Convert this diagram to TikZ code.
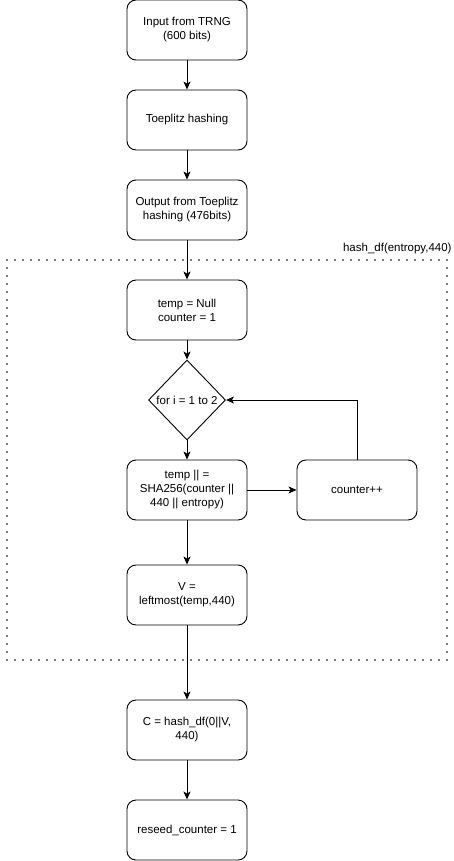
\documentclass[tikz,border=0pt]{standalone}
\usepackage{fontspec}
\setmainfont{Liberation Sans}
\usetikzlibrary{arrows.meta,shapes.geometric}
\begin{document}
\begin{tikzpicture}[x=1pt,y=-1pt,>={Stealth[length=8pt,width=7pt,inset=2pt]},
  line width=0.9pt,
  box/.style={draw,rounded corners=9pt,minimum width=120pt,minimum height=60pt,
    inner sep=2pt,align=center,font=\fontsize{11.5}{14}\selectfont},
  decision/.style={draw,diamond,inner sep=0pt,minimum width=77pt,minimum height=80pt},
  frame/.style={line width=1.6pt,dash pattern=on 0pt off 8pt,line cap=round},
  txt/.style={font=\fontsize{11.5}{14}\selectfont}]
  \useasboundingbox (0,0) rectangle (454,861);
  % outer steps
  \node[box] (in)  at (187,30)  {Input from TRNG\\(600 bits)};
  \node[box] (toe) at (187,120) {Toeplitz hashing};
  \node[box] (out) at (187,210) {Output from Toeplitz\\hashing (476bits)};
  % hash_df block
  \draw[frame] (7,260) rectangle (447,660);
  \node[txt,anchor=base east,inner sep=0pt] (lbl) at (452,251) {hash\_df(entropy,440)};
  \node[box] (null) at (187,310) {temp = Null\\counter = 1};
  \node[decision,label={[txt]center:for i = 1 to 2}] (loop) at (187,400) {};
  \node[box] (sha) at (187,490) {temp || =\\SHA256(counter ||\\440 || entropy)};
  \node[box] (inc) at (357,490) {counter++};
  \node[box] (vv)  at (187,595) {V =\\leftmost(temp,440)};
  % after the block
  \node[box] (cc) at (187,730) {C = hash\_df(0||V,\\440)};
  \node[box] (rs) at (187,830) {reseed\_counter = 1};
  % connectors
  \draw[->] (in) -- (toe);
  \draw[->] (toe) -- (out);
  \draw[->] (out) -- (null);
  \draw[->] (null) -- (loop);
  \draw[->] (loop) -- (sha);
  \draw[->] (sha) -- (inc);
  \draw[->] (inc.north) |- (loop.east);
  \draw[->] (sha) -- (vv);
  \draw[->] (vv) -- (cc);
  \draw[->] (cc) -- (rs);
\end{tikzpicture}
\end{document}
